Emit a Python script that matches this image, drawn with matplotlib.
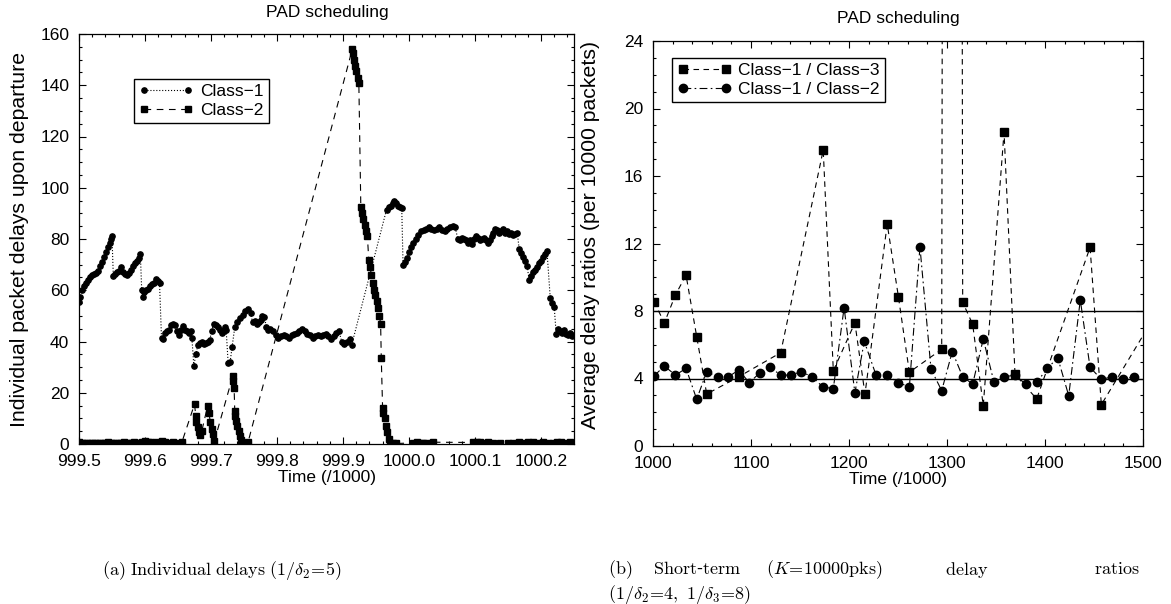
import matplotlib as mpl
mpl.use('Agg')
import matplotlib.pyplot as plt
from matplotlib.ticker import MultipleLocator, FormatStrFormatter
import numpy as np

mpl.rcParams.update({'font.family': 'Liberation Sans',
                     'font.size': 12.5,
                     'mathtext.fontset': 'cm',
                     'axes.linewidth': 0.9})

# ---- (a) individual delays, PAD scheduling ----
class1_t = [999.500, 999.502, 999.505, 999.508, 999.511, 999.514, 999.517, 999.520, 999.523, 999.526,
            999.529, 999.532, 999.535, 999.538, 999.541, 999.544, 999.547, 999.549, 999.550,
            999.552, 999.555, 999.558, 999.561, 999.564, 999.567, 999.570, 999.573, 999.576, 999.579,
            999.582, 999.585, 999.588, 999.591, 999.593,
            999.595, 999.597, 999.599, 999.602, 999.605, 999.608, 999.611, 999.614, 999.617, 999.620, 999.622,
            999.625, 999.627, 999.630, 999.633, 999.636, 999.639, 999.642, 999.645, 999.648, 999.651,
            999.654, 999.657, 999.660, 999.663, 999.666, 999.669, 999.671,
            999.674, 999.677, 999.680, 999.683, 999.686, 999.689, 999.692, 999.695, 999.698, 999.701,
            999.704, 999.707, 999.710, 999.713, 999.716, 999.719, 999.721, 999.723,
            999.726, 999.729, 999.732, 999.736, 999.740, 999.744, 999.748, 999.752, 999.756, 999.760,
            999.763, 999.766, 999.769, 999.772, 999.775, 999.778, 999.781, 999.784, 999.787, 999.790,
            999.794, 999.798, 999.802, 999.806, 999.810, 999.814, 999.818, 999.822, 999.826, 999.830,
            999.834, 999.838, 999.842, 999.846, 999.850, 999.854, 999.858, 999.862, 999.866, 999.870,
            999.874, 999.878, 999.882, 999.886, 999.890, 999.894, 999.898, 999.902, 999.906, 999.910, 999.913,
            999.966, 999.969, 999.972, 999.975, 999.978, 999.981, 999.984, 999.987, 999.989,
            999.991, 999.994, 999.997, 1000.000, 1000.003, 1000.006, 1000.010, 1000.014, 1000.018, 1000.022,
            1000.026, 1000.030, 1000.034, 1000.038, 1000.042, 1000.046, 1000.050, 1000.054, 1000.058,
            1000.062, 1000.066, 1000.070,
            1000.074, 1000.077, 1000.080, 1000.083, 1000.086, 1000.089, 1000.092, 1000.095, 1000.098,
            1000.101, 1000.104, 1000.107, 1000.110, 1000.113, 1000.116, 1000.119, 1000.122, 1000.125,
            1000.128, 1000.131, 1000.134, 1000.137, 1000.140, 1000.143, 1000.146, 1000.149, 1000.152,
            1000.155, 1000.158, 1000.161, 1000.164,
            1000.167, 1000.170, 1000.173, 1000.176, 1000.179, 1000.182, 1000.185, 1000.188, 1000.191,
            1000.194, 1000.197, 1000.200, 1000.203, 1000.206, 1000.209,
            1000.214, 1000.217, 1000.220, 1000.223, 1000.226, 1000.229, 1000.232, 1000.235, 1000.238,
            1000.241, 1000.244, 1000.247, 1000.250]
class1_v = [55.5, 57.5, 60.0, 61.5, 63.0, 64.0, 65.0, 65.8, 66.3, 66.8,
            67.5, 69.5, 71.0, 73.0, 75.0, 77.0, 78.5, 80.0, 81.0,
            65.5, 66.5, 67.0, 67.5, 69.0, 67.0, 66.5, 66.0, 66.8, 68.0,
            69.5, 70.5, 71.5, 72.5, 74.0,
            60.0, 57.5, 59.5, 60.0, 60.5, 61.5, 62.5, 63.0, 64.5, 63.5, 62.8,
            41.5, 41.0, 43.5, 44.0, 44.5, 46.5, 47.0, 46.5, 44.0, 42.5,
            44.5, 46.0, 44.5, 44.0, 43.5, 44.0, 41.5,
            30.5, 35.0, 38.5, 39.5, 40.0, 39.0, 39.5, 40.0, 40.5, 44.0,
            47.0, 46.5, 45.5, 44.5, 43.5, 44.0, 45.5, 44.5,
            31.5, 32.0, 38.0, 45.5, 47.5, 49.0, 50.5, 52.0, 52.5, 51.0,
            47.5, 48.0, 47.0, 47.5, 48.5, 50.0, 49.5, 45.5, 44.5, 45.0,
            44.0, 42.5, 41.5, 42.0, 42.5, 42.0, 41.5, 42.5, 43.0, 43.5,
            44.0, 45.0, 44.0, 43.0, 42.5, 41.5, 42.0, 42.5, 42.0, 42.5,
            43.0, 42.0, 41.0, 42.0, 43.5, 44.0, 40.0, 39.0, 40.0, 41.0, 38.5,
            91.5, 92.5, 93.0, 94.0, 95.0, 94.0, 93.0, 92.5, 92.0,
            70.0, 71.0, 72.5, 75.0, 77.0, 78.5, 80.0, 81.5, 83.0, 83.5,
            84.0, 84.5, 84.0, 83.5, 84.0, 84.5, 83.5, 83.0, 84.0,
            84.5, 85.0, 84.5,
            80.0, 79.5, 80.5, 80.0, 79.5, 78.5, 79.5, 78.0, 80.0,
            81.0, 80.5, 79.5, 80.0, 80.5, 79.5, 78.5, 79.5, 81.0,
            82.5, 84.0, 83.5, 82.5, 83.0, 84.0, 82.5, 83.0, 82.0,
            82.5, 81.5, 82.0, 82.5,
            76.0, 74.5, 73.0, 71.5, 69.5, 64.0, 65.5, 67.0, 68.0,
            69.0, 70.5, 71.5, 73.0, 74.0, 75.5,
            57.0, 55.0, 53.5, 43.0, 45.0, 44.0, 43.5, 44.5, 43.0,
            42.5, 43.5, 42.0, 42.5]

class2_t = [999.500, 999.504, 999.508, 999.512, 999.516, 999.520, 999.524, 999.528, 999.532, 999.536,
            999.540, 999.544, 999.548, 999.552, 999.556, 999.560, 999.564, 999.568, 999.572, 999.576,
            999.580, 999.584, 999.588, 999.592, 999.596, 999.600, 999.604, 999.608, 999.612, 999.616,
            999.620, 999.625, 999.630, 999.636, 999.642, 999.648, 999.656,
            999.675, 999.677, 999.678, 999.680, 999.682, 999.684, 999.686,
            999.695, 999.697, 999.699, 999.701, 999.703, 999.705,
            999.733, 999.734, 999.735, 999.736, 999.737, 999.738, 999.740, 999.742, 999.744, 999.745,
            999.747, 999.750, 999.753, 999.756,
            999.914, 999.915, 999.917, 999.918, 999.920, 999.922, 999.924,
            999.927, 999.929, 999.931, 999.933, 999.935, 999.937, 999.939, 999.941, 999.943, 999.945,
            999.947, 999.949, 999.951, 999.953, 999.955, 999.957, 999.958, 999.960, 999.961, 999.963,
            999.965, 999.967, 999.969, 999.971,
            999.976, 999.980, 1000.006, 1000.012, 1000.018, 1000.021, 1000.027, 1000.036,
            1000.097, 1000.103, 1000.108, 1000.114, 1000.120, 1000.128, 1000.138, 1000.150, 1000.158,
            1000.166, 1000.173, 1000.180, 1000.188, 1000.194, 1000.203, 1000.210, 1000.218, 1000.224,
            1000.230, 1000.236, 1000.244, 1000.249]
class2_v = [0.6, 0.4, 0.3, 0.5, 0.2, 0.3, 0.4, 0.2, 0.5, 0.3,
            0.4, 0.6, 0.3, 0.2, 0.4, 0.5, 0.3, 0.6, 0.4, 0.2,
            0.5, 0.8, 0.4, 0.3, 0.7, 1.0, 0.6, 0.8, 0.4, 0.9,
            0.5, 1.1, 0.6, 0.4, 0.9, 0.3, 0.8,
            15.5, 11.0, 8.5, 6.5, 4.5, 3.5, 5.0,
            15.0, 12.0, 8.5, 6.0, 4.0, 1.0,
            26.5, 24.5, 22.0, 13.0, 11.0, 9.0, 7.0, 5.0, 3.0, 1.5,
            0.4, 0.3, 0.5, 0.6,
            154.0, 152.5, 150.0, 147.5, 145.5, 143.0, 141.0,
            92.5, 90.0, 88.0, 85.5, 83.0, 81.0, 72.0, 69.0, 66.0, 63.0,
            60.0, 58.0, 56.0, 53.0, 50.0, 47.0, 33.5, 14.0, 12.0, 10.0,
            7.0, 4.5, 2.0, 0.5,
            0.3, 0.2, 0.4, 0.6, 0.3, 0.5, 0.4, 0.7,
            0.6, 0.9, 0.7, 0.5, 0.8, 0.4, 0.3, 0.5, 0.4,
            0.6, 0.3, 0.7, 0.9, 0.5, 0.8, 0.3, 0.4, 0.7,
            0.9, 0.5, 0.6, 0.4]

# ---- (b) short-term delay ratios ----
r12_t = [1001.0, 1011.6, 1022.9, 1033.7, 1044.6, 1054.8, 1066.0, 1076.9, 1087.4, 1098.3,
         1109.2, 1119.7, 1130.3, 1140.5, 1151.0, 1162.6, 1173.2, 1184.0, 1195.0, 1206.0,
         1215.6, 1227.6, 1239.0, 1250.4, 1261.6, 1272.4, 1283.7, 1294.6, 1305.4, 1316.0,
         1326.2, 1337.0, 1348.0, 1358.2, 1369.4, 1380.3, 1391.5, 1402.4, 1413.0, 1424.2,
         1436.0, 1446.0, 1457.5, 1468.7, 1480.0, 1490.8]
r12_v = [4.15, 4.74, 4.2, 4.6, 2.77, 4.4, 4.1, 4.1, 4.5, 3.75,
         4.35, 4.66, 4.2, 4.2, 4.4, 4.1, 3.5, 3.4, 8.2, 3.15,
         6.2, 4.2, 4.2, 3.75, 3.5, 11.8, 4.55, 3.28, 5.6, 4.1,
         3.67, 6.34, 3.77, 4.1, 4.2, 3.67, 3.77, 4.6, 5.23, 2.98,
         8.65, 4.66, 3.95, 4.1, 3.97, 4.1]

r13_t = [1001.0, 1011.6, 1022.9, 1033.7, 1044.6, 1054.8, 1087.4, 1130.3, 1173.7, 1184.0,
         1206.0, 1216.3, 1239.0, 1250.4, 1261.6, 1294.6, 1305.4, 1316.0, 1326.2, 1337.0,
         1358.2, 1369.4, 1391.5, 1446.0, 1457.5, 1511.0]
r13_v = [8.55, 7.3, 8.95, 10.13, 6.48, 3.08, 4.1, 5.53, 17.54, 4.46,
         7.3, 3.08, 13.15, 8.85, 4.37, 5.73, 400.0, 8.52, 7.21, 2.39,
         18.6, 4.25, 2.79, 11.77, 2.45, 7.6]
target_ratios = [8, 4]

W, H = 1171, 604
fig = plt.figure(figsize=(W / 100, H / 100), dpi=100)
ax1 = fig.add_axes([79 / W, 1 - 444 / H, (574 - 79) / W, (444 - 34) / H])
ax2 = fig.add_axes([653 / W, 1 - 446 / H, (1143 - 653) / W, (446 - 41) / H])

leg_kw = dict(loc='upper left', frameon=True, fancybox=False, edgecolor='k', framealpha=1,
              numpoints=2, handlelength=3.1, borderpad=0.3, labelspacing=0.2,
              handletextpad=0.4, borderaxespad=0)

ax1.plot(class1_t, class1_v, color='k', ls=':', lw=0.8, marker='o', ms=3.8,
         mec='k', mfc='k', label='Class\u22121')
ax1.plot(class2_t, class2_v, color='k', ls=(0, (6, 5)), lw=0.8, marker='s', ms=4.2,
         mec='k', mfc='k', label='Class\u22122')
ax1.set_xlim(999.5, 1000.25)
ax1.set_ylim(0, 160)
ax1.xaxis.set_major_locator(MultipleLocator(0.1))
ax1.xaxis.set_minor_locator(MultipleLocator(0.02))
ax1.xaxis.set_major_formatter(FormatStrFormatter('%.1f'))
ax1.yaxis.set_major_locator(MultipleLocator(20))
ax1.yaxis.set_minor_locator(MultipleLocator(5))
ax1.set_xlabel('Time (/1000)', labelpad=1)
ax1.set_ylabel('Individual packet delays upon departure', fontsize=15.3)
ax1.yaxis.set_label_coords(-0.101, 0.5)
ax1.legend(bbox_to_anchor=(0.111, 0.89), **leg_kw)

ax2.plot(r13_t, r13_v, color='k', ls=(0, (5, 4)), lw=0.8, marker='s', ms=5.5,
         mec='k', mfc='k', label='Class\u22121 / Class\u22123')
ax2.plot(r12_t, r12_v, color='k', ls=(0, (7, 3, 1.5, 3)), lw=0.8, marker='o', ms=6,
         mec='k', mfc='k', label='Class\u22121 / Class\u22122')
for r in target_ratios:
    ax2.axhline(r, color='k', lw=1.0)
ax2.set_xlim(1000, 1500)
ax2.set_ylim(0, 24)
ax2.xaxis.set_major_locator(MultipleLocator(100))
ax2.xaxis.set_minor_locator(MultipleLocator(20))
ax2.yaxis.set_major_locator(MultipleLocator(4))
ax2.yaxis.set_minor_locator(MultipleLocator(1))
ax2.set_xlabel('Time (/1000)', labelpad=1)
ax2.set_ylabel('Average delay ratios (per 10000 packets)', fontsize=15.3)
ax2.yaxis.set_label_coords(-0.108, 0.52)
ax2.legend(bbox_to_anchor=(0.039, 0.958), **leg_kw)

for ax in (ax1, ax2):
    ax.tick_params(which='both', direction='in', top=True, right=True, width=0.8)
    ax.tick_params(which='major', length=5)
    ax.tick_params(which='minor', length=2.5)
    ax.tick_params(axis='x', which='major', pad=7)
    ax.tick_params(axis='y', which='major', pad=7)

fig.text(327 / W, 1 - 12 / H, 'PAD scheduling', ha='center', va='center')
fig.text(898 / W, 1 - 18 / H, 'PAD scheduling', ha='center', va='center')

# captions
cap = 13
eq = r'\!=\!'
fig.text(222 / W, 1 - 570 / H, r'$\mathrm{(a)\ Individual\ delays\ }(1/\delta_2' + eq + '5)$',
         ha='center', va='center', fontsize=cap)
fig.text(608 / W, 1 - 570 / H, r'$\mathrm{(b)}$', ha='left', va='center', fontsize=cap)
fig.text(653 / W, 1 - 570 / H, r'$\mathrm{Short}$-$\mathrm{term}$', ha='left', va='center', fontsize=cap)
fig.text(766 / W, 1 - 570 / H, r'$(K' + eq + r'10000\mathrm{pks})$', ha='left', va='center', fontsize=cap)
fig.text(945 / W, 1 - 570 / H, r'$\mathrm{delay}$', ha='left', va='center', fontsize=cap)
fig.text(1140 / W, 1 - 570 / H, r'$\mathrm{ratios}$', ha='right', va='center', fontsize=cap)
fig.text(608 / W, 1 - 594 / H, r'$(1/\delta_2' + eq + r'4,\ 1/\delta_3' + eq + '8)$',
         ha='left', va='center', fontsize=cap)

fig.savefig('out.png', dpi=100)
